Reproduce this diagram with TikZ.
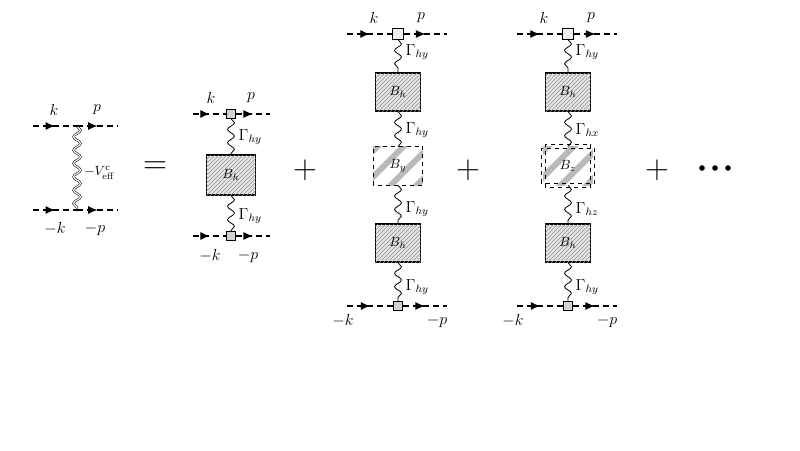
\documentclass[tikz,border=0pt]{standalone}
\usetikzlibrary{decorations.pathmorphing,decorations.markings,patterns,arrows.meta}
\tikzset{
  prop/.style={thick,dash pattern=on 4.5pt off 3pt,postaction={decorate},decoration={markings,mark=at position 0.5 with {\arrow{Latex[length=7pt,width=6pt]}}}},
  wig/.style={decorate,decoration={snake,segment length=10pt,amplitude=2.6pt},semithick},
  dwig/.style={decorate,decoration={snake,segment length=10pt,amplitude=2.6pt},double,double distance=0.9pt},
  vsq/.style={draw,fill=gray!35,minimum size=6.5pt,inner sep=0pt},
  vsqb/.style={draw,fill=gray!12,minimum size=8pt,inner sep=0pt},
  hbox/.style={draw,thick,fill=gray!20,postaction={pattern=north east lines,pattern color=gray!85},minimum width=34pt,minimum height=28.5pt,inner sep=0pt},
  lab/.style={font=\large},
}
\begin{document}
\begin{tikzpicture}[x=0.75pt,y=-0.75pt]
\useasboundingbox (0,0) rectangle (800,450);
% ---- diagram 1
\coordinate (a1) at (33,126); \coordinate (v1) at (77,126); \coordinate (e1) at (118,126);
\coordinate (b1) at (33,210); \coordinate (w1) at (77,210); \coordinate (f1) at (118,210);
\draw[prop] (a1) -- (v1); \draw[prop] (v1) -- (e1);
\draw[prop] (b1) -- (w1); \draw[prop] (w1) -- (f1);
\draw[dwig] (v1) -- (w1);
\fill (v1) circle (1pt); \fill (w1) circle (1pt);
\node[lab] (k1) at (54,110) {$k$}; \node[lab] (p1) at (97,110) {$p$};
\node[lab] (mk1) at (55,229) {$-k$}; \node[lab] (mp1) at (95,229) {$-p$};
\node[font=\normalsize,anchor=west,inner sep=0pt] (V1) at (84,173) {$-V^{\mathrm c}_{\mathrm{eff}}$};
\node[font=\Huge] (eq) at (155,168) {$=$};
% ---- diagram 2
\coordinate (a2) at (193,114); \coordinate (e2) at (270,114);
\coordinate (b2) at (193,236); \coordinate (f2) at (270,236);
\node[vsq] (t2) at (231,114) {}; \node[vsq] (u2) at (231,236) {};
\draw[prop] (a2) -- (t2); \draw[prop] (t2) -- (e2);
\draw[prop] (b2) -- (u2); \draw[prop] (u2) -- (f2);
\node[hbox,minimum width=37pt,minimum height=30pt] (B2) at (231,175) {$B_h$};
\draw[wig] (t2) -- (B2); \draw[wig] (B2) -- (u2);
\node[lab,anchor=west] (g2a) at (234,137) {$\Gamma_{hy}$};
\node[lab,anchor=west] (g2b) at (234,216) {$\Gamma_{hy}$};
\node[lab] (k2) at (211,98) {$k$}; \node[lab] (p2) at (251,98) {$p$};
\node[lab] (mk2) at (210,256) {$-k$}; \node[lab] (mp2) at (248,256) {$-p$};
\node[font=\Huge] (pl1) at (305,170) {$+$};
% ---- diagram 3 and 4
\foreach \c/\n/\g/\sub in {398/3/y/y, 568/4/x/z}{
  \coordinate (a\n) at (\c-51,34); \coordinate (e\n) at (\c+49,34);
  \coordinate (b\n) at (\c-51,306); \coordinate (f\n) at (\c+49,306);
  \node[vsqb] (t\n) at (\c,34) {}; \node[vsq] (u\n) at (\c,306) {};
  \draw[prop] (a\n) -- (t\n); \draw[prop] (t\n) -- (e\n);
  \draw[prop] (b\n) -- (u\n); \draw[prop] (u\n) -- (f\n);
  \node[hbox] (P\n) at (\c,92) {$B_h$};
  \node[hbox] (Q\n) at (\c,243) {$B_h$};
  \node[minimum width=37pt,minimum height=28.5pt,inner sep=0pt] (M\n) at (\c,166) {};
  \begin{scope}
    \clip (M\n.south west) rectangle (M\n.north east);
    \foreach \s in {-40,-14,12,38}{
      \draw[gray!55,line width=4.5pt] (\c+\s-25,191) -- (\c+\s+25,141);}
  \end{scope}
  \node (ML\n) at (M\n) {$B_\sub$};
  \draw[wig] (t\n) -- (P\n); \draw[wig] (P\n) -- (M\n);
  \draw[wig] (M\n) -- (Q\n); \draw[wig] (Q\n) -- (u\n);
  \node[lab,anchor=west] at (\c+3,52) {$\Gamma_{hy}$};
  \node[lab,anchor=west] at (\c+3,130) {$\Gamma_{h\g}$};
  \node[lab,anchor=west] at (\c+3,209) {$\Gamma_{h\sub}$};
  \node[lab,anchor=west] at (\c+3,287) {$\Gamma_{hy}$};
  \node[lab] at (\c-24,18) {$k$}; \node[lab] at (\c+23,18) {$p$};
  \node[lab] at (\c-55,321) {$-k$}; \node[lab] at (\c+39,321) {$-p$};
}
\draw[thick,dashed] (M3.south west) rectangle (M3.north east);
\draw[thick,dashed] ([shift={(-2,-2)}]M4.south west) rectangle ([shift={(2,2)}]M4.north east);
\draw[thick,dashed] ([shift={(2,2)}]M4.south west) rectangle ([shift={(-2,-2)}]M4.north east);
\node[font=\Huge] (pl2) at (468,170) {$+$};
\node[font=\Huge] (pl3) at (657,170) {$+$};
\foreach \d in {0,1,2} \fill (702+\d*13,168) circle (2.8);
\end{tikzpicture}
\end{document}
